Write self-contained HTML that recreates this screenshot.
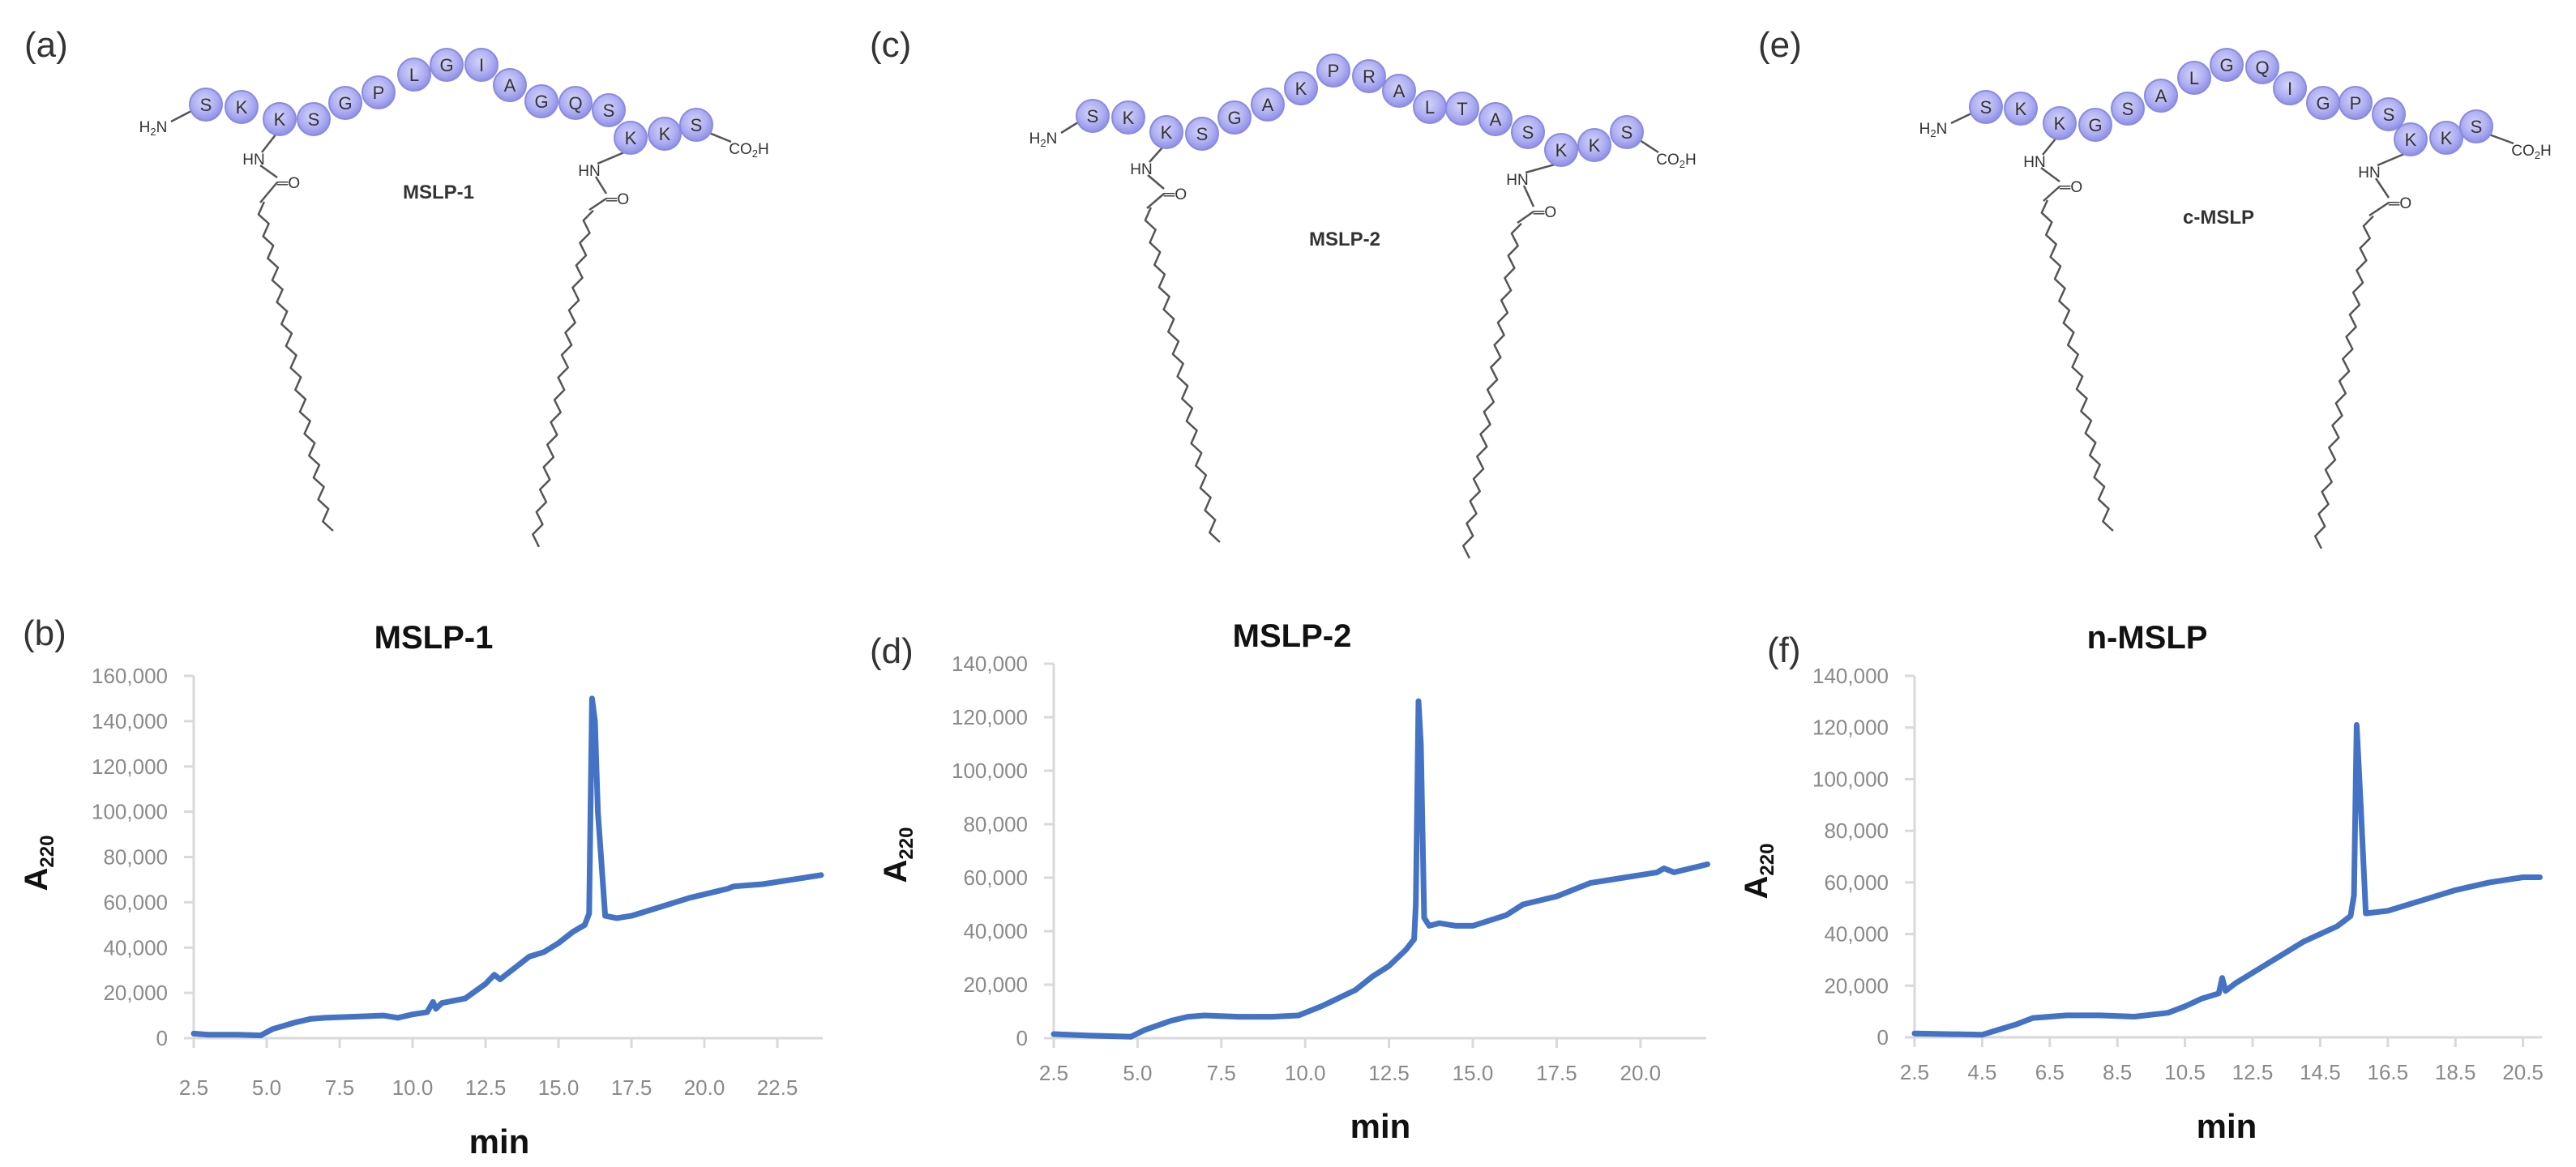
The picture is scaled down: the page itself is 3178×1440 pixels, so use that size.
<!DOCTYPE html>
<html><head><meta charset="utf-8"><style>
html,body{margin:0;padding:0;background:#fff;}
svg{display:block;}
text{font-family:"Liberation Sans",sans-serif;}
</style></head><body>
<svg id="fig" width="3178" height="1440" viewBox="0 0 3178 1440" xmlns="http://www.w3.org/2000/svg">
<defs>
<radialGradient id="bead" cx="45%" cy="40%" r="60%">
<stop offset="0" stop-color="#d4d4fa"/><stop offset="0.6" stop-color="#b0b0f2"/><stop offset="1" stop-color="#8f8fe6"/>
</radialGradient>
</defs>
<g id="structs"></g>
<g id="charts"></g>
</svg>
<script>
// ---------------- chart data ----------------
const timesB = [2.5,3,4,4.8,5.2,6,6.5,7,8,9,9.5,10,10.5,10.7,10.8,11,11.8,12.5,12.8,13,13.5,14,14.5,15,15.5,15.9,16.05,16.15,16.25,16.35,16.6,17,17.5,18.5,19.5,20.8,21,22,23,24];
const valuesB = [2000,1500,1500,1200,4000,7000,8500,9000,9500,10000,9000,10500,11500,16000,13000,15500,17500,24000,28000,26000,31000,36000,38000,42000,47000,50000,55000,150000,140000,100000,54000,53000,54000,58000,62000,66000,67000,68000,70000,72000];
const xTicksB = ["2.5","5.0","7.5","10.0","12.5","15.0","17.5","20.0","22.5"];
const yTicksB = ["0","20,000","40,000","60,000","80,000","100,000","120,000","140,000","160,000"];

const timesD = [2.5,3.5,4.8,5.2,6,6.5,7,8,9,9.8,10.5,11,11.5,12,12.5,13,13.25,13.3,13.38,13.45,13.55,13.7,14,14.5,15,16,16.5,17.5,18.5,19.5,20.5,20.7,21,22];
const valuesD = [1500,1000,500,3000,6500,8000,8500,8000,8000,8500,12000,15000,18000,23000,27000,33000,37000,50000,126000,110000,45000,42000,43000,42000,42000,46000,50000,53000,58000,60000,62000,63500,62000,65000];
const xTicksD = ["2.5","5.0","7.5","10.0","12.5","15.0","17.5","20.0"];
const yTicksD = ["0","20,000","40,000","60,000","80,000","100,000","120,000","140,000"];

const timesF = [2.5,4.5,5,5.5,6,7,8,9,10,10.5,11,11.5,11.6,11.7,12,12.5,13,13.5,14,14.5,15,15.4,15.5,15.58,15.7,15.85,16.5,17.5,18.5,19.5,20.5,21];
const valuesF = [1500,1000,3000,5000,7500,8500,8500,8000,9500,12000,15000,17000,23000,18000,21000,25000,29000,33000,37000,40000,43000,47000,55000,121000,90000,48000,49000,53000,57000,60000,62000,62000];
const xTicksF = ["2.5","4.5","6.5","8.5","10.5","12.5","14.5","16.5","18.5","20.5"];
const yTicksF = ["0","20,000","40,000","60,000","80,000","100,000","120,000","140,000"];

const NS="http://www.w3.org/2000/svg";
function mk(tag,attrs,parent){const e=document.createElementNS(NS,tag);for(const k in attrs)e.setAttribute(k,attrs[k]);parent.appendChild(e);return e;}

function chart(cfg,times,values,xTicks,yTicks){
  const g=mk('g',{},document.getElementById('charts'));
  
  
  const x0=cfg.axisX,y0=cfg.y0,yTop=cfg.yTop,xEnd=cfg.xEnd;
  const tStep=cfg.tStep,tPx=cfg.tPx,tMin=parseFloat(xTicks[0]);
  const yMax=parseFloat(yTicks[yTicks.length-1].replace(/,/g,''));
  const sx=t=>x0+(t-tMin)/tStep*tPx;
  const sy=v=>y0-(v/yMax)*(y0-yTop);
  const ya=mk('line',{x1:x0,y1:yTop,x2:x0,y2:y0,stroke:'#d9d9d9','stroke-width':3},g);
  
  
  const xa=mk('line',{x1:x0,y1:y0,x2:xEnd,y2:y0,stroke:'#d9d9d9','stroke-width':3},g);
  
  
  yTicks.forEach(lbl=>{
    const v=parseFloat(lbl.replace(/,/g,''));const y=sy(v);
    mk('line',{x1:x0-12,y1:y,x2:x0,y2:y,stroke:'#d9d9d9','stroke-width':3},g);
    const t=mk('text',{x:x0-32,y:y+9,'text-anchor':'end','font-size':26,fill:'#8a8a8a'},g);
    t.textContent=lbl;
    
    
  });
  xTicks.forEach(lbl=>{
    const x=sx(parseFloat(lbl));
    mk('line',{x1:x,y1:y0,x2:x,y2:y0+12,stroke:'#d9d9d9','stroke-width':3},g);
    const t=mk('text',{x:x,y:y0+cfg.xlOff,'text-anchor':'middle','font-size':26,fill:'#8a8a8a'},g);
    t.textContent=lbl;
    
    
  });
  const pts=times.map((t,i)=>sx(t).toFixed(1)+','+sy(values[i]).toFixed(1)).join(' ');
  const line=mk('polyline',{points:pts,fill:'none',stroke:'#4472c4','stroke-width':7,'stroke-linejoin':'round','stroke-linecap':'round'},g);
  
  
  const ti=mk('text',{x:cfg.titleX,y:cfg.titleY+14,'text-anchor':'middle','font-size':40,'font-weight':'bold',fill:'#111'},g);
  ti.textContent=cfg.title;
  
  
  const mn=mk('text',{x:cfg.minX,y:cfg.minY+14,'text-anchor':'middle','font-size':42,'font-weight':'bold',fill:'#111'},g);
  mn.textContent='min';
  
  
  const ay=mk('text',{x:0,y:0,'text-anchor':'middle','font-size':40,'font-weight':'bold',fill:'#111',transform:`translate(${cfg.aX},${cfg.aY}) rotate(-90)`},g);
  
  
  ay.innerHTML='A<tspan font-size="24" dy="8">220</tspan>';
  const pl=mk('text',{x:cfg.pX,y:cfg.pY+15,'font-size':44,fill:'#333'},g);
  pl.textContent=cfg.panel;
  
  
}

chart({name:'chart-mslp-1',axisX:239,y0:1281,yTop:834,xEnd:1015,xlOff:70,tStep:2.5,tPx:90,title:'MSLP-1',titleX:535,titleY:786,minX:616,minY:1409,aX:58,aY:1065,panel:'(b)',pX:28,pY:781},timesB,valuesB,xTicksB,yTicksB);
chart({name:'chart-mslp-2',axisX:1300,y0:1281,yTop:819,xEnd:2105,xlOff:52,tStep:2.5,tPx:103.4,title:'MSLP-2',titleX:1594,titleY:784,minX:1703,minY:1390,aX:1118,aY:1055,panel:'(d)',pX:1073,pY:803},timesD,valuesD,xTicksD,yTicksD);
chart({name:'chart-n-mslp',axisX:2362,y0:1280,yTop:834,xEnd:3136,xlOff:52,tStep:2,tPx:83.4,title:'n-MSLP',titleX:2649,titleY:786,minX:2747,minY:1390,aX:2180,aY:1075,panel:'(f)',pX:2180,pY:802},timesF,valuesF,xTicksF,yTicksF);

// ---------------- structures ----------------
const structs=[
 {name:'structure-mslp-1',panel:'(a)',pX:30,label:'MSLP-1',lX:541,lY:237,
  letters:'SKKSGPLGIAGQSKKS',
  beads:[[254,129],[298,132],[345,147],[387,147],[426,127],[467,114],[511,92],[551,80],[594,80],[629,105],[668,125],[710,127],[751,136],[778,170],[820,165],[859,154]],
  h2n:[189,156],co2h:[924,183],hnL:[313,196],coL:[352,225],chL:[[321,250],[406,656]],kR:13,hnR:[727,210],coR:[758,245],chR:[[727,259],[660,674]]},
 {name:'structure-mslp-2',panel:'(c)',pX:1073,label:'MSLP-2',lX:1659,lY:295,
  letters:'SKKSGAKPRALTASKKS',
  beads:[[1348,143],[1392,145],[1439,163],[1483,165],[1523,145],[1564,129],[1605,109],[1645,87],[1689,94],[1726,112],[1764,132],[1804,134],[1845,147],[1885,163],[1926,185],[1967,179],[2007,163]],
  h2n:[1287,170],co2h:[2068,196],hnL:[1408,208],coL:[1446,239],chL:[[1415,257],[1500,670]],kR:14,hnR:[1872,221],coR:[1902,261],chR:[[1872,275],[1808,688]]},
 {name:'structure-c-mslp',panel:'(e)',pX:2169,label:'c-MSLP',lX:2737,lY:268,
  letters:'SKKGSALGQIGPSKKS',
  beads:[[2450,132],[2493,134],[2541,152],[2585,154],[2625,134],[2666,118],[2707,96],[2747,80],[2791,83],[2825,109],[2866,127],[2906,127],[2947,141],[2974,172],[3018,170],[3055,156]],
  h2n:[2385,158],co2h:[3123,185],hnL:[2510,199],coL:[2551,230],chL:[[2521,248],[2602,656]],kR:13,hnR:[2923,212],coR:[2957,250],chR:[[2923,266],[2859,676]]}
];
function zig(a,b,n,amp){
  const dx=b[0]-a[0],dy=b[1]-a[1],L=Math.hypot(dx,dy),nx=-dy/L,ny=dx/L;let p=[];
  for(let i=0;i<=n;i++){const f=i/n;const s=(i%2?1:-1)*amp;p.push((a[0]+dx*f+nx*s).toFixed(1)+','+(a[1]+dy*f+ny*s).toFixed(1));}
  return p.join(' ');
}
const sg=document.getElementById('structs');
structs.forEach(s=>{
  const g=mk('g',{},sg);
  
  
  const ln={stroke:'#555','stroke-width':2.5,fill:'none','stroke-linejoin':'round'};
  const b=s.beads,k=b[2],kr=b[s.kR],last=b[b.length-1];
  mk('line',Object.assign({x1:s.h2n[0]+22,y1:s.h2n[1]-6,x2:b[0][0]-18,y2:b[0][1]+8},ln),g);
  mk('line',Object.assign({x1:last[0]+16,y1:last[1]+10,x2:s.co2h[0]-22,y2:s.co2h[1]-8},ln),g);
  mk('line',Object.assign({x1:k[0]-4,y1:k[1]+18,x2:s.hnL[0]+10,y2:s.hnL[1]-8},ln),g);
  mk('line',Object.assign({x1:s.hnL[0]+8,y1:s.hnL[1]+8,x2:s.coL[0]-10,y2:s.coL[1]-6},ln),g);
  mk('line',Object.assign({x1:s.coL[0]-10,y1:s.coL[1],x2:s.chL[0][0],y2:s.chL[0][1]},ln),g);
  mk('line',Object.assign({x1:kr[0]-8,y1:kr[1]+18,x2:s.hnR[0]+10,y2:s.hnR[1]-8},ln),g);
  mk('line',Object.assign({x1:s.hnR[0]+8,y1:s.hnR[1]+8,x2:s.coR[0]-10,y2:s.coR[1]-6},ln),g);
  mk('line',Object.assign({x1:s.coR[0]-10,y1:s.coR[1],x2:s.chR[0][0],y2:s.chR[0][1]},ln),g);
  const c1=mk('polyline',Object.assign({points:zig(s.chL[0],s.chL[1],30,5)},ln),g);
  
  
  const c2=mk('polyline',Object.assign({points:zig(s.chR[0],s.chR[1],30,5)},ln),g);
  
  
  b.forEach((p,i)=>{
    const c=mk('circle',{cx:p[0],cy:p[1],r:20,fill:'url(#bead)',stroke:'#8a8ae4','stroke-width':2},g);
    
    
    const t=mk('text',{x:p[0],y:p[1]+8,'text-anchor':'middle','font-size':22,fill:'#333'},g);
    t.textContent=s.letters[i];
  });
  const txt=(x,y,str,fs,w,name)=>{const t=mk('text',{x:x,y:y,'text-anchor':'middle','font-size':fs,'font-weight':w,fill:'#333'},g);t.innerHTML=str;return t;};
  txt(s.h2n[0],s.h2n[1]+7,'H<tspan font-size="13" dy="4">2</tspan><tspan dy="-4">N</tspan>',19,'normal','amine-group');
  txt(s.co2h[0],s.co2h[1]+7,'CO<tspan font-size="13" dy="4">2</tspan><tspan dy="-4">H</tspan>',19,'normal','carboxyl-group');
  txt(s.hnL[0],s.hnL[1]+7,'HN',19,'normal','amide-nh');
  txt(s.hnR[0],s.hnR[1]+7,'HN',19,'normal','amide-nh');
  txt(s.coL[0]+4,s.coL[1]+7,'═O',19,'normal','carbonyl');
  txt(s.coR[0]+4,s.coR[1]+7,'═O',19,'normal','carbonyl');
  txt(s.lX,s.lY+8,s.label,24,'bold','peptide-name');
  const pl=mk('text',{x:s.pX,y:70,'font-size':44,fill:'#333'},g);
  pl.textContent=s.panel;
  
  
});
</script>
</body></html>
